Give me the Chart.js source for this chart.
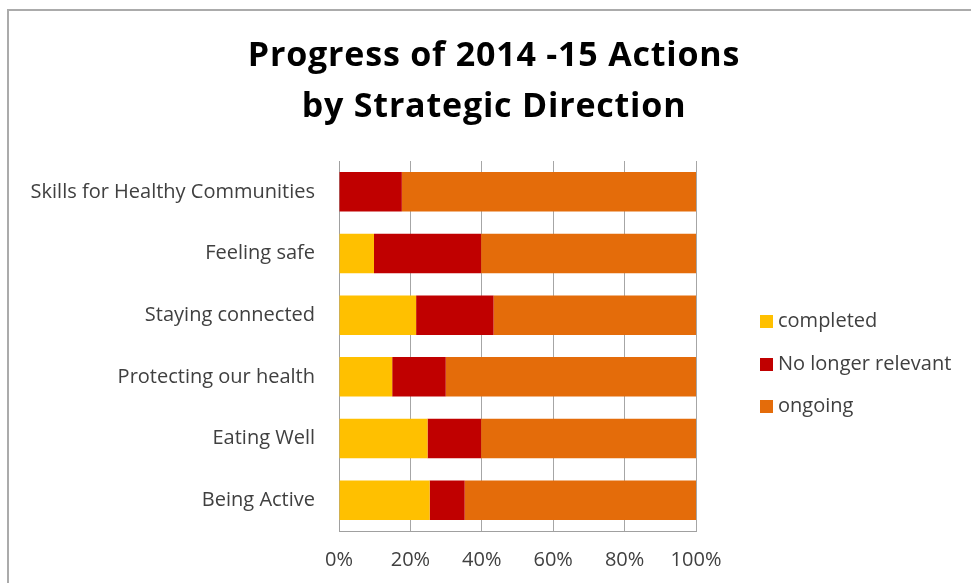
<!DOCTYPE html>
<html>
<head>
<meta charset="utf-8">
<title>Progress of 2014 -15 Actions</title>
<script src="https://cdn.jsdelivr.net/npm/chart.js@4.4.1/dist/chart.umd.min.js"></script>
<style>
  html, body { margin: 0; padding: 0; background: #fff; overflow: hidden; }
  #wrap { position: relative; width: 971px; height: 583px; font-family: "Open Sans", sans-serif; }
  #frame { position: absolute; left: 7px; top: 9px; width: 1000px; height: 700px; border: 2px solid #ababab; }
  #title { position: absolute; left: 17px; right: 0; top: 28px; text-align: center;
           font-weight: bold; font-size: 34px; letter-spacing: 0.8px; line-height: 51px; color: #000; }
  #chart { position: absolute; left: 0; top: 0; }
  #legend { position: absolute; left: 760px; top: 306px; font-size: 20px; color: #404040; }
  #legend div { height: 42.5px; line-height: 28px; white-space: nowrap; }
  #legend span { display: inline-block; width: 13px; height: 13px; margin-right: 5px; vertical-align: -1px; }
</style>
</head>
<body>
<div id="wrap">
  <div id="frame"></div>
  <canvas id="chart" width="971" height="583"></canvas>
  <div id="title">Progress of 2014 -15 Actions<br>by Strategic Direction</div>
  <div id="legend"></div>
</div>
<script>
'use strict';

// categories, top to bottom
const categories = ['Skills for Healthy Communities', 'Feeling safe', 'Staying connected',
  'Protecting our health', 'Eating Well', 'Being Active'];

// share of actions (%) per strategic direction
const completed = [0, 9.8, 21.6, 14.9, 24.8, 25.4];
const noLongerRelevant = [17.6, 30.0, 21.7, 15.0, 15.0, 9.8];
const ongoing = [82.4, 60.2, 56.7, 70.1, 60.2, 64.8];

const seriesNames = ['completed', 'No longer relevant', 'ongoing'];
const seriesColors = ['#FFC000', '#C00000', '#E46C0A'];
const xTicks = [0, 20, 40, 60, 80, 100];

const tickFont = { family: '"Open Sans", sans-serif', size: 20 };

// Build legend in html
const legendBox = document.getElementById('legend');
seriesNames.forEach((name, i) => {
  const row = document.createElement('div');
  row.innerHTML = '<span style="background:' + seriesColors[i] + '"></span>' + name;
  legendBox.appendChild(row);
});

const ctx = document.getElementById('chart').getContext('2d');
new Chart(ctx, {
  type: 'bar',
  data: {
    labels: categories,
    datasets: [completed, noLongerRelevant, ongoing].map((values, i) => ({
      label: seriesNames[i],
      data: values,
      backgroundColor: seriesColors[i],
      borderWidth: 0,
      barPercentage: 0.64,
      categoryPercentage: 1
    }))
  },
  options: {
    indexAxis: 'y',
    responsive: false,
    animation: false,
    layout: { padding: { left: 17, top: 161, right: 275, bottom: 0 } },
    plugins: {
      legend: { display: false },
      title: { display: false },
      tooltip: { enabled: false }
    },
    scales: {
      x: {
        stacked: true,
        min: 0,
        max: 100,
        afterBuildTicks: (axis) => { axis.ticks = xTicks.map(v => ({ value: v })); },
        afterFit: (axis) => { axis.height = 52; },
        grid: { color: '#a6a6a6', drawTicks: false, lineWidth: 1 },
        border: { color: '#a0a0a0', width: 1 },
        ticks: {
          padding: 17,
          color: '#404040',
          font: tickFont,
          callback: (v) => v + '%'
        }
      },
      y: {
        stacked: true,
        afterFit: (axis) => { axis.width = 322; },
        grid: { display: false, drawTicks: false },
        border: { color: '#a0a0a0', width: 1 },
        ticks: { padding: 24, color: '#404040', font: tickFont }
      }
    }
  }
});
</script>
</body>
</html>
